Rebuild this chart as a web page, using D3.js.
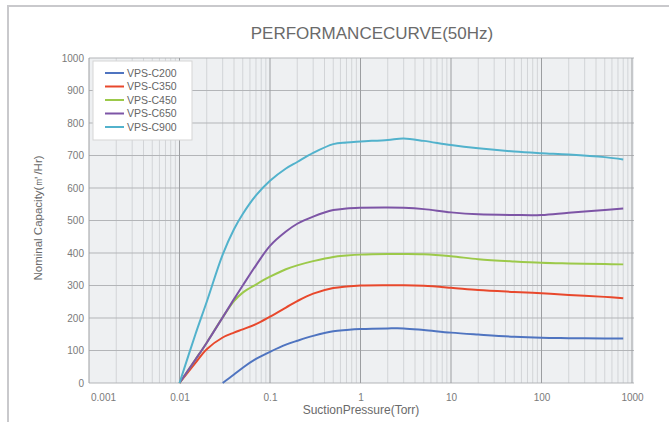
<!DOCTYPE html>
<html>
<head>
<meta charset="utf-8">
<script src="https://cdn.jsdelivr.net/npm/d3@7"></script>
<style>
  body { margin: 0; background: #fff; }
  svg { display: block; font-family: "Liberation Sans", Arial, sans-serif; }
</style>
</head>
<body>
<svg id="chart"></svg>
<script>
// Áp suất hút (Torr) dùng chung cho mọi đường
const pressures = [0.01, 0.015, 0.02, 0.03, 0.04, 0.05, 0.07, 0.1, 0.15, 0.2, 0.3, 0.5, 0.7, 1, 2, 3, 5, 10, 20, 50, 100, 200, 500, 800];

// Lưu lượng danh định (m3/h) theo từng model, null = chưa có dữ liệu
const c200 = [null, null, null, 0, 26, 47, 74, 96, 118, 130, 145, 159, 163, 166, 168, 168, 163, 155, 149, 142, 139, 138, 137, 137];
const c350 = [0, 62, 104, 140, 155, 165, 181, 204, 232, 252, 275, 292, 297, 300, 301, 301, 299, 293, 286, 280, 276, 271, 265, 261];
const c450 = [0, 72, 124, 202, 252, 278, 303, 327, 350, 362, 375, 388, 392, 395, 397, 397, 396, 390, 381, 374, 370, 368, 366, 365];
const c650 = [0, 72, 124, 202, 258, 300, 362, 422, 466, 490, 512, 532, 537, 539, 540, 539, 535, 525, 519, 517, 517, 524, 532, 537];
const c900 = [0, 150, 250, 395, 473, 520, 577, 622, 660, 680, 708, 735, 740, 743, 748, 752, 745, 732, 722, 712, 707, 703, 695, 688];

const seriesNames = ["VPS-C200", "VPS-C350", "VPS-C450", "VPS-C650", "VPS-C900"];
const seriesColors = ["#4f74c0", "#e8482c", "#9cc94a", "#7d55a6", "#52b2cc"];
const seriesValues = [c200, c350, c450, c650, c900];

const xTicks = [0.001, 0.01, 0.1, 1, 10, 100, 1000];
const yTicks = [0, 100, 200, 300, 400, 500, 600, 700, 800, 900, 1000];

const width = 669, height = 422;
const plot = { left: 89, right: 634, top: 58, bottom: 383 };

const svg = d3.select("#chart").attr("width", width).attr("height", height);

// Khung ngoài
svg.append("rect")
    .attr("x", 8).attr("y", 6)
    .attr("width", 720).attr("height", 430)
    .attr("fill", "#fff")
    .attr("stroke", "#c9c9cc")
    .attr("stroke-width", 2);

const x = d3.scaleLog().domain([0.001, 1000]).range([plot.left, 632]);
const y = d3.scaleLinear().domain([0, 1000]).range([plot.bottom, plot.top]);

// Nền vùng vẽ
svg.append("rect")
    .attr("x", plot.left).attr("y", plot.top)
    .attr("width", plot.right - plot.left).attr("height", plot.bottom - plot.top)
    .attr("fill", "#eef0f2");

// Lưới dọc phụ (2..9 mỗi decade)
const minor = [];
for (let e = -3; e < 3; e++) {
    for (let m = 2; m <= 9; m++) minor.push(m * Math.pow(10, e));
}
svg.append("g").selectAll("line")
    .data(minor)
    .enter().append("line")
    .attr("x1", d => x(d)).attr("x2", d => x(d))
    .attr("y1", plot.top).attr("y2", plot.bottom)
    .attr("stroke", "#d2d4d7")
    .attr("stroke-width", 1);

// Lưới ngang
svg.append("g").selectAll("line")
    .data(yTicks)
    .enter().append("line")
    .attr("x1", plot.left).attr("x2", plot.right)
    .attr("y1", d => y(d)).attr("y2", d => y(d))
    .attr("stroke", "#b3b5b8")
    .attr("stroke-width", 1);

// Lưới dọc chính
svg.append("g").selectAll("line")
    .data(xTicks)
    .enter().append("line")
    .attr("x1", d => x(d)).attr("x2", d => x(d))
    .attr("y1", plot.top).attr("y2", plot.bottom)
    .attr("stroke", "#9c9ea1")
    .attr("stroke-width", 1);

// Trục Y
const yAxis = svg.append("g")
    .attr("transform", `translate(${plot.left - 5}, 0)`)
    .call(d3.axisLeft(y).tickValues(yTicks).tickSize(0).tickPadding(0).tickFormat(d3.format("d")));
yAxis.select(".domain").remove();
yAxis.selectAll("text")
    .style("font-size", "10px")
    .attr("fill", "#7a7a7a");

// Trục X
const xAxis = svg.append("g")
    .attr("transform", `translate(0, ${plot.bottom + 11})`)
    .call(d3.axisBottom(x).tickValues(xTicks).tickSize(0).tickPadding(0).tickFormat(d3.format("~g")));
xAxis.select(".domain").remove();
xAxis.selectAll("text")
    .style("font-size", "10px")
    .attr("fill", "#7a7a7a")
    .attr("dx", (d, i) => i === 0 ? 14 : 0);

// Các đường
const line = d3.line()
    .defined(d => d.v !== null)
    .x(d => x(d.p))
    .y(d => y(d.v))
    .curve(d3.curveCatmullRom.alpha(0.5));

seriesValues.forEach((vals, i) => {
    const pts = pressures.map((p, j) => ({ p: p, v: vals[j] }));
    svg.append("path")
        .datum(pts)
        .attr("fill", "none")
        .attr("stroke", seriesColors[i])
        .attr("stroke-width", 2)
        .attr("d", line);
});

// Chú thích
const legend = svg.append("g");
legend.append("rect")
    .attr("x", 93).attr("y", 61)
    .attr("width", 99).attr("height", 79)
    .attr("fill", "#fff")
    .attr("stroke", "#d5d5d5");
seriesNames.forEach((name, i) => {
    const ly = 73 + i * 13.5;
    legend.append("line")
        .attr("x1", 105).attr("x2", 124)
        .attr("y1", ly).attr("y2", ly)
        .attr("stroke", seriesColors[i])
        .attr("stroke-width", 2);
    legend.append("text")
        .attr("x", 127).attr("y", ly + 3.8)
        .style("font-size", "10.5px")
        .attr("fill", "#666")
        .text(name);
});

// Tiêu đề
svg.append("text")
    .attr("x", 372).attr("y", 39)
    .attr("text-anchor", "middle")
    .style("font-size", "17px")
    .attr("fill", "#6a6a6a")
    .text("PERFORMANCECURVE(50Hz)");

svg.append("text")
    .attr("x", 361).attr("y", 414)
    .attr("text-anchor", "middle")
    .style("font-size", "12px")
    .attr("fill", "#6a6a6a")
    .text("SuctionPressure(Torr)");

svg.append("text")
    .attr("transform", "translate(42, 218) rotate(-90)")
    .attr("text-anchor", "middle")
    .style("font-size", "11.5px")
    .attr("fill", "#6a6a6a")
    .text("Nominal Capacity(㎥/Hr)");
</script>
</body>
</html>
